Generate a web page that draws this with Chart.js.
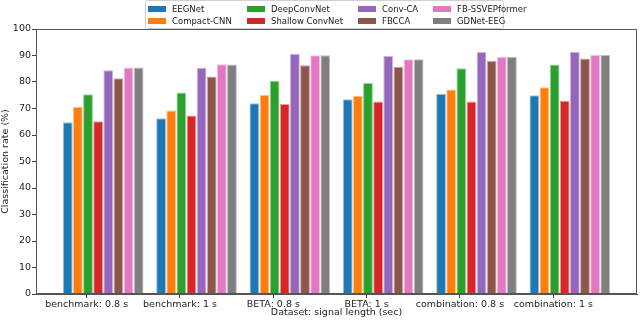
<!DOCTYPE html>
<html>
<head>
<meta charset="utf-8">
<script src="https://cdn.jsdelivr.net/npm/chart.js@4/dist/chart.umd.min.js"></script>
<style>
    html, body { margin: 0; background: #fff; }
    #wrap { width: 640px; height: 321px; }
</style>
</head>
<body>
<div id="wrap"><canvas id="chart" width="640" height="321"></canvas></div>
<script>
const groups = ['benchmark: 0.8 s', 'benchmark: 1 s', 'BETA: 0.8 s', 'BETA: 1 s', 'combination: 0.8 s', 'combination: 1 s']
const methods = ['EEGNet', 'Compact-CNN', 'DeepConvNet', 'Shallow ConvNet', 'Conv-CA', 'FBCCA', 'FB-SSVEPformer', 'GDNet-EEG']

const eegnet = [64.8, 66.3, 72.0, 73.5, 75.6, 75.0]
const compactCnn = [70.6, 69.2, 75.1, 74.7, 77.2, 78.0]
const deepConvNet = [75.4, 76.0, 80.5, 79.6, 85.2, 86.6]
const shallowConvNet = [65.2, 67.4, 71.7, 72.6, 72.6, 72.9]
const convCa = [84.4, 85.4, 90.7, 89.8, 91.3, 91.4]
const fbcca = [81.4, 82.1, 86.3, 85.8, 88.0, 88.9]
const fbSsvepformer = [85.5, 86.7, 90.1, 88.6, 89.4, 90.2]
const gdnetEeg = [85.5, 86.6, 90.1, 88.6, 89.4, 90.2]

const yTicks = [0, 10, 20, 30, 40, 50, 60, 70, 80, 90, 100]

const series = [eegnet, compactCnn, deepConvNet, shallowConvNet, convCa, fbcca, fbSsvepformer, gdnetEeg]
const colors = ['#1f77b4', '#ff7f0e', '#2ca02c', '#d62728', '#9467bd', '#8c564b', '#e377c2', '#7f7f7f']
const edges = ['#9dc1de', '#ffc08c', '#9ad29a', '#eb9a9b', '#cab5de', '#c8aba5', '#f1bde2', '#bfbfbf']

// matplotlib put the tick a bit left of each group centre
const tickShift = -0.177
const font = 'DejaVu Sans'

const frame = {
    id: 'frame',
    afterDraw(chart) {
        const { ctx, chartArea: a } = chart
        ctx.save()
        ctx.strokeStyle = '#555'
        ctx.lineWidth = 1
        ctx.strokeRect(a.left + 0.5, a.top + 0.5, a.right - a.left - 1, a.bottom - a.top - 1)
        ctx.restore()
    }
}

// legend laid out column-major, 4 columns x 2 rows, like matplotlib ncol=4
const legendBox = {
    id: 'legendBox',
    afterDraw(chart) {
        const ctx = chart.ctx
        const cols = [148, 247, 358, 433]
        const rows = [9, 21]
        ctx.save()
        ctx.fillStyle = 'rgba(255,255,255,0.85)'
        ctx.strokeStyle = '#d0d0d0'
        ctx.lineWidth = 1
        ctx.beginPath()
        ctx.roundRect(145.5, 0.5, 358, 28, 2)
        ctx.fill()
        ctx.stroke()
        ctx.font = '8.5px "' + font + '"'
        ctx.textBaseline = 'middle'
        chart.data.datasets.forEach((ds, i) => {
            const x = cols[Math.floor(i / 2)]
            const y = rows[i % 2]
            ctx.fillStyle = ds.backgroundColor
            ctx.fillRect(x, y - 3, 18, 6)
            ctx.fillStyle = '#222'
            ctx.fillText(ds.label, x + 24, y + 0.5)
        })
        ctx.restore()
    }
}

const ctx = document.getElementById('chart').getContext('2d')

const chart = new Chart(ctx, {
    type: 'bar',
    data: {
        datasets: series.map((vals, i) => ({
            label: methods[i],
            data: vals.map((v, j) => ({ x: j, y: v })),
            backgroundColor: colors[i],
            borderColor: edges[i],
            borderWidth: 1,
            categoryPercentage: 0.868,
            barPercentage: 0.97
        }))
    },
    options: {
        responsive: false,
        animation: false,
        layout: { padding: { top: 29, right: 3, left: 0, bottom: 0 } },
        plugins: {
            legend: { display: false },
            tooltip: { enabled: false }
        },
        scales: {
            x: {
                type: 'linear',
                offset: false,
                min: -0.72,
                max: 5.72,
                afterFit: s => { s.height = 27 },
                afterBuildTicks: s => { s.ticks = groups.map((g, i) => ({ value: i + tickShift })) },
                grid: { display: true, offset: false, drawOnChartArea: false, drawTicks: true, tickLength: 4, color: '#444' },
                border: { display: true, color: '#555' },
                ticks: {
                    autoSkip: false,
                    maxRotation: 0,
                    padding: 1,
                    color: '#222',
                    font: { family: font, size: 9.5 },
                    callback: v => groups[Math.round(v - tickShift)]
                },
                title: { display: true, text: 'Dataset: signal length (sec)', color: '#222', font: { family: font, size: 9.5 }, padding: { top: 0, bottom: 3 } }
            },
            y: {
                min: 0,
                max: 100,
                afterFit: s => { s.width = 36 },
                afterBuildTicks: s => { s.ticks = yTicks.map(v => ({ value: v })) },
                grid: { display: true, drawOnChartArea: false, drawTicks: true, tickLength: 4, color: '#444' },
                border: { display: true, color: '#555' },
                ticks: { padding: 1, color: '#222', font: { family: font, size: 9.5 } },
                title: { display: true, text: 'Classification rate (%)', color: '#222', font: { family: font, size: 9.5 }, padding: 0 }
            }
        }
    },
    plugins: [frame, legendBox]
})
</script>
</body>
</html>
